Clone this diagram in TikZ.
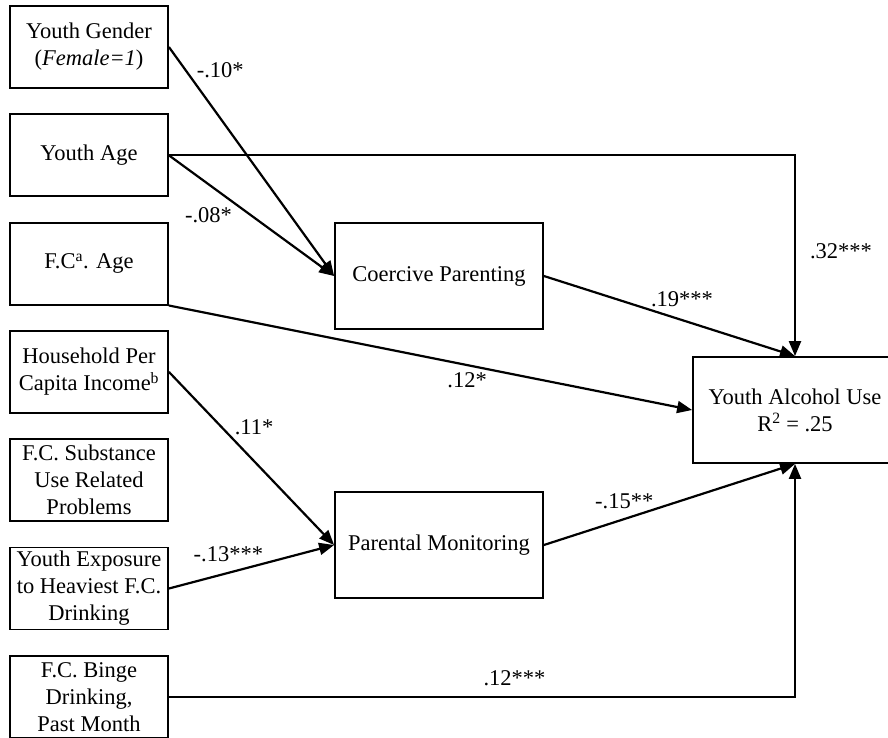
\documentclass[tikz,border=0pt]{standalone}
\usepackage{fontspec}
\setmainfont{Liberation Serif}
\usepackage{tikz}
\usetikzlibrary{positioning, arrows.meta}

\begin{document}
\begin{tikzpicture}[
  x=1pt, y=-1pt,
  every node/.style={font=\fontsize{22.5}{27}\selectfont, text=black},
  predictor/.style={
    draw,
    line width=1.8pt,
    minimum width=158pt,
    minimum height=82pt,
    align=center,
    inner sep=2pt,
  },
  mediator/.style={
    draw,
    line width=1.8pt,
    minimum width=208pt,
    minimum height=106pt,
    align=center,
  },
  outcome/.style={
    draw,
    line width=1.8pt,
    minimum width=204pt,
    minimum height=106pt,
    align=center,
  },
  link/.style={
    -{Triangle[length=15pt, width=12pt]},
    line width=2.2pt,
  },
  coef/.style={inner sep=2pt},
]
  \useasboundingbox (0,0) rectangle (888,737);

  % left column
  \node[predictor] (gender) at (89,47) {Youth Gender\\(\textit{Female=1})};
  \node[predictor, below=24.5pt of gender] (youthage) {Youth Age};
  \node[predictor, below=24.5pt of youthage] (fcage) {F.C\textsuperscript{a}. Age};
  \node[predictor, below=24.5pt of fcage] (income) {Household Per\\Capita Income\textsuperscript{b}};
  \node[predictor, below=24.5pt of income] (fcprob) {F.C. Substance\\Use Related\\Problems};
  \node[predictor, below=24.5pt of fcprob] (exposure) {Youth Exposure\\to Heaviest F.C.\\Drinking};
  \node[predictor, below=24.5pt of exposure] (binge) {F.C. Binge\\Drinking,\\Past Month};

  % mediators and outcome
  \node[mediator] (coercive) at (439,276) {Coercive Parenting};
  \node[mediator] (monitor) at (439,545) {Parental Monitoring};
  \node[outcome] (alcohol) at (795,410) {Youth Alcohol Use\\R\textsuperscript{2} = .25};

  \draw[link] (gender.east) -- node[coef, pos=.15, above right]{-.10*} (coercive.west);
  \draw[link] (youthage.east) -- node[coef, pos=.24, below=20pt]{-.08*} (coercive.west);
  \draw[link] (youthage.east) -| node[coef, pos=.74, right=12pt]{.32***} (alcohol.north);
  \draw[link] (coercive.east) -- node[coef, pos=.55, above=10pt]{.19***} (alcohol.north);
  \draw[link] (fcage.south east) -- node[coef, pos=.57, below=4pt]{.12*} (alcohol.west);
  \draw[link] (income.east) -- node[coef, pos=.32, right=10pt]{.11*} (monitor.west);
  \draw[link] (exposure.east) -- node[coef, pos=.36, above=8pt]{-.13***} (monitor.west);
  \draw[link] (monitor.east) -- node[coef, pos=.32, above=7pt]{-.15**} (alcohol.south);
  \draw[link] (binge.east) -| node[coef, pos=.276, above=8pt]{.12***} (alcohol.south);
\end{tikzpicture}
\end{document}
